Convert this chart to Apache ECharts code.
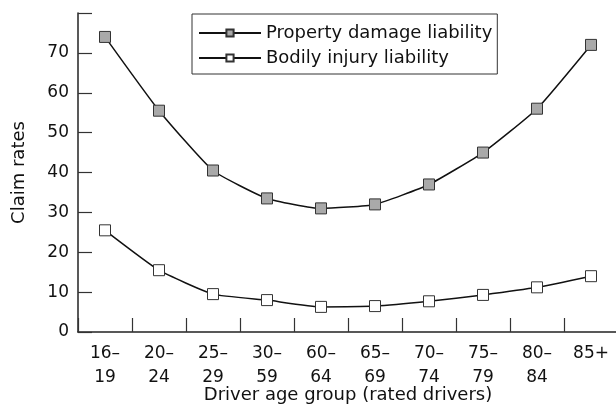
<!DOCTYPE html>
<html>
<head>
<meta charset="utf-8">
<script src="https://cdn.jsdelivr.net/npm/echarts@6/dist/echarts.min.js"></script>
<style>
  html, body { margin: 0; padding: 0; background: #fff; }
  #chart { width: 616px; height: 404px; }
</style>
</head>
<body>
<div id="chart"></div>
<script>
var ageGroups = ['16–\n19', '20–\n24', '25–\n29', '30–\n59', '60–\n64', '65–\n69', '70–\n74', '75–\n79', '80–\n84', '85+'];
var propertyDamage = [74, 55.5, 40.5, 33.5, 31, 32, 37, 45, 56, 72];
var bodilyInjury = [25.5, 15.5, 9.5, 8, 6.3, 6.5, 7.7, 9.3, 11.2, 14];

var fontName = 'DejaVu Sans';
var chart = echarts.init(document.getElementById('chart'));

var options = {
  backgroundColor: '#fff',
  animation: false,
  textStyle: { fontFamily: fontName, color: '#111' },
  grid: { left: 78, top: 13, width: 540, bottom: 72, outerBoundsMode: 'none', containLabel: false },
  legend: {
    left: 192,
    top: 14,
    orient: 'vertical',
    padding: [10, 5, 7, 6],
    itemGap: 7,
    itemWidth: 62,
    itemHeight: 9,
    borderColor: '#333',
    borderWidth: 1,
    textStyle: { fontFamily: fontName, fontSize: 18, color: '#111' },
    data: ['Property damage liability', 'Bodily injury liability']
  },
  xAxis: {
    type: 'category',
    data: ageGroups,
    boundaryGap: true,
    name: 'Driver age group (rated drivers)',
    nameLocation: 'middle',
    nameGap: 54,
    nameMoveOverlap: false,
    nameTextStyle: { fontFamily: fontName, fontSize: 18, color: '#111' },
    axisLine: { show: true, lineStyle: { color: '#222', width: 1.5 } },
    axisTick: { show: true, alignWithLabel: false, interval: 0, inside: true, length: 14, lineStyle: { color: '#333', width: 1.2 } },
    axisLabel: { fontFamily: fontName, fontSize: 17, color: '#111', margin: 10, lineHeight: 24, interval: 0 }
  },
  yAxis: {
    type: 'value',
    min: 0,
    max: 80,
    interval: 10,
    name: 'Claim rates',
    nameLocation: 'middle',
    nameGap: 50,
    nameMoveOverlap: false,
    nameTextStyle: { fontFamily: fontName, fontSize: 18, color: '#111' },
    axisLine: { show: true, lineStyle: { color: '#222', width: 1.5 } },
    axisTick: { show: true, inside: true, length: 14, lineStyle: { color: '#333', width: 1.2 } },
    splitLine: { show: false },
    axisLabel: {
      fontFamily: fontName, fontSize: 17, color: '#111', margin: 9,
      formatter: function (v) { return v === 80 ? '' : v; }
    }
  },
  series: [
    {
      name: 'Property damage liability',
      type: 'line',
      data: propertyDamage,
      smooth: 0.15,
      symbol: 'rect',
      symbolSize: 11,
      lineStyle: { color: '#111', width: 1.5 },
      itemStyle: { color: '#a9a9a9', borderColor: '#333', borderWidth: 1 }
    },
    {
      name: 'Bodily injury liability',
      type: 'line',
      data: bodilyInjury,
      smooth: 0.15,
      symbol: 'rect',
      symbolSize: 11,
      lineStyle: { color: '#111', width: 1.5 },
      itemStyle: { color: '#fff', borderColor: '#333', borderWidth: 1 }
    }
  ]
};

chart.setOption(options);
</script>
</body>
</html>
